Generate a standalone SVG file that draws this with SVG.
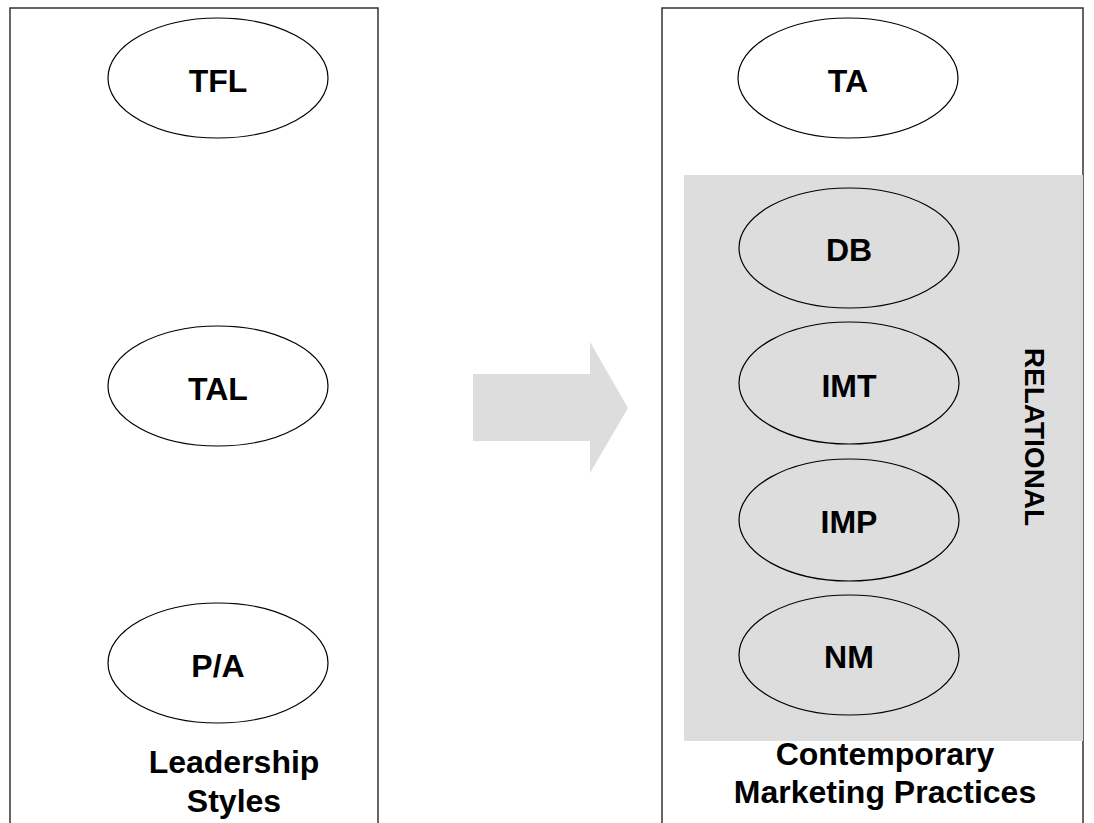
<svg xmlns="http://www.w3.org/2000/svg" width="1094" height="823" viewBox="0 0 1094 823">
<style>
.box{fill:none;stroke:#333;stroke-width:1.5}
.ell{stroke:#000;stroke-width:1.2}
.lbl{font-family:"Liberation Sans",Arial,sans-serif;font-weight:bold;font-size:32px;text-anchor:middle;fill:#000}
.gray{fill:#dddddd}
</style>
<rect width="1094" height="823" fill="#fff"/>
<g id="leadership-box">
<rect class="box" x="10" y="8" width="368" height="830"/>
<text class="lbl" x="234" y="773">Leadership</text>
<text class="lbl" x="234" y="812">Styles</text>
</g>
<g id="marketing-box">
<rect class="box" x="662" y="8" width="421" height="830"/>
<rect class="gray" x="684" y="175" width="399" height="566"/>
<text class="lbl" x="885" y="765">Contemporary</text>
<text class="lbl" x="885" y="803">Marketing Practices</text>
<text class="lbl" font-size="28" style="font-size:28px" transform="translate(1025,437) rotate(90)">RELATIONAL</text>
</g>
<g id="connectors">
<polygon class="gray" points="473,374 590,374 590,342 628,408 590,473 590,441 473,441"/>
</g>
<g id="TFL"><ellipse class="ell" fill="#fff" cx="218" cy="78" rx="110" ry="60"/><text class="lbl" x="218" y="92">TFL</text></g>
<g id="TAL"><ellipse class="ell" fill="#fff" cx="218" cy="386" rx="110" ry="60"/><text class="lbl" x="218" y="400">TAL</text></g>
<g id="PA"><ellipse class="ell" fill="#fff" cx="218" cy="663" rx="110" ry="60"/><text class="lbl" x="218" y="677">P/A</text></g>
<g id="TA"><ellipse class="ell" fill="#fff" cx="848" cy="78" rx="110" ry="60"/><text class="lbl" x="848" y="92">TA</text></g>
<g id="DB"><ellipse class="ell" fill="none" cx="849" cy="248" rx="110" ry="60"/><text class="lbl" x="849" y="261">DB</text></g>
<g id="IMT"><ellipse class="ell" fill="none" cx="849" cy="383" rx="110" ry="61"/><text class="lbl" x="849" y="397">IMT</text></g>
<g id="IMP"><ellipse class="ell" fill="none" cx="849" cy="520" rx="110" ry="61"/><text class="lbl" x="849" y="533">IMP</text></g>
<g id="NM"><ellipse class="ell" fill="none" cx="849" cy="655" rx="110" ry="60"/><text class="lbl" x="849" y="668">NM</text></g>
</svg>
